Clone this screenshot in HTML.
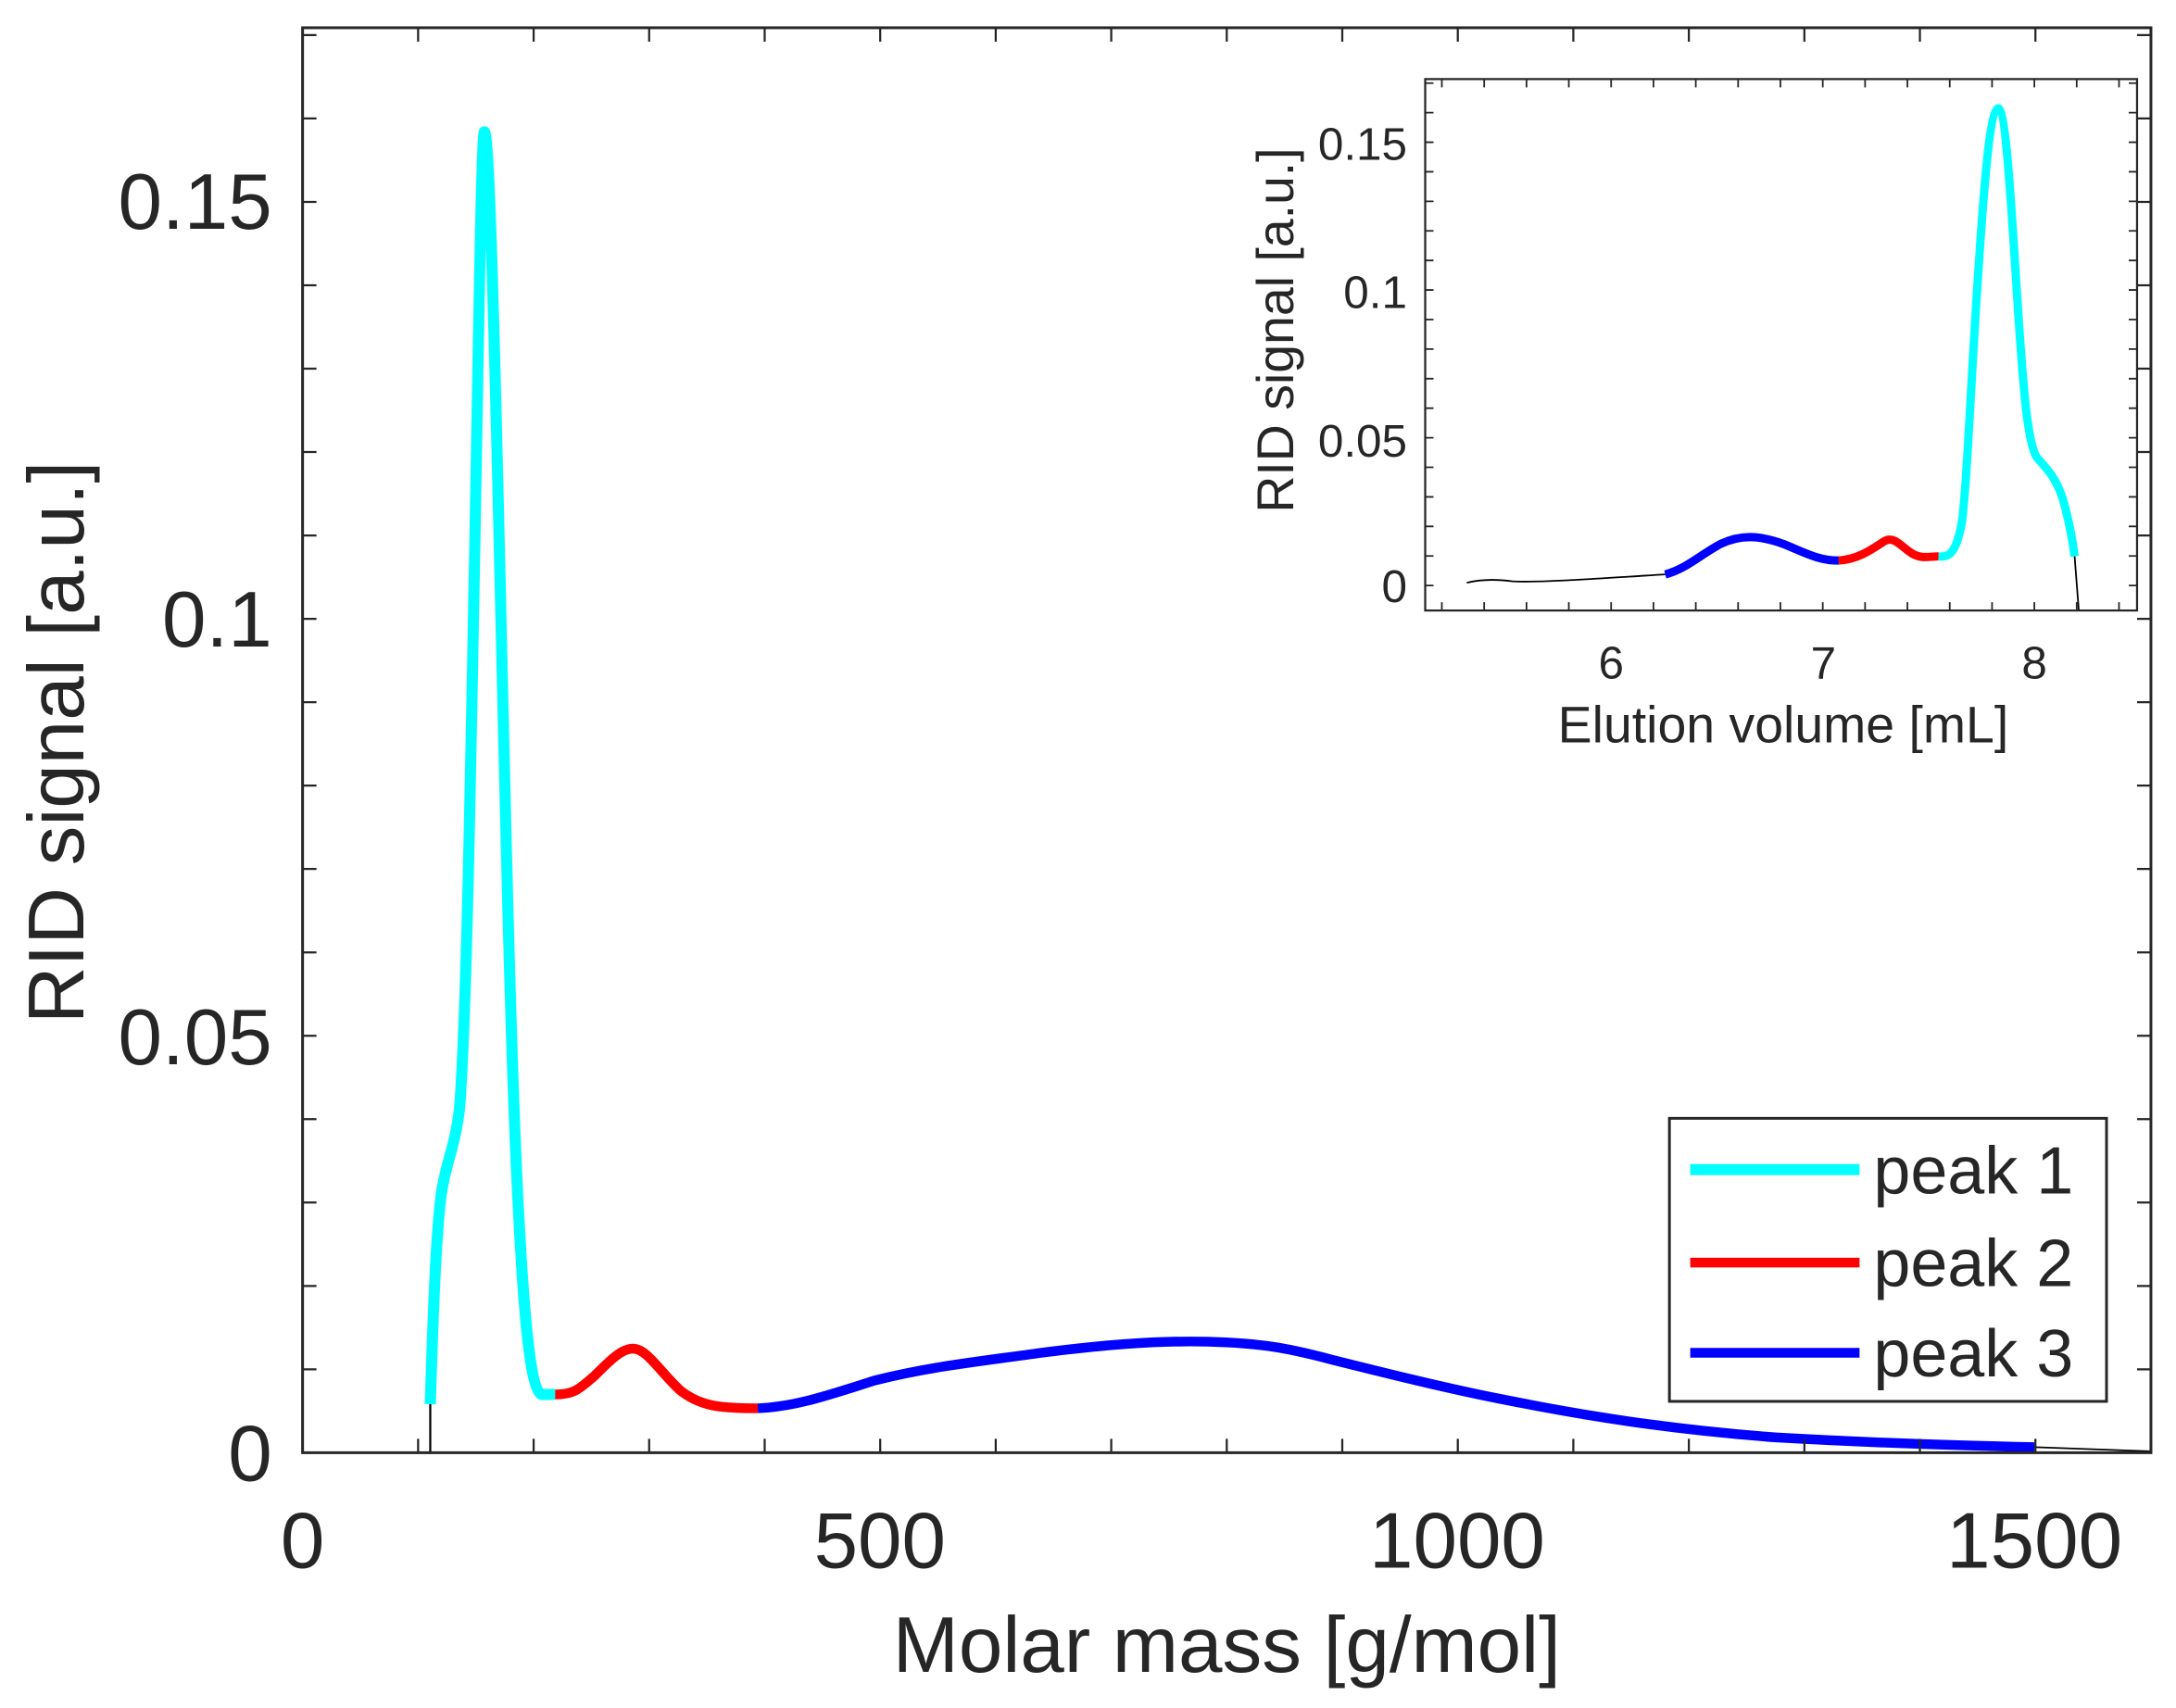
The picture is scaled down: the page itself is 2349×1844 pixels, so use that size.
<!DOCTYPE html>
<html><head><meta charset="utf-8"><style>
html,body{margin:0;padding:0;background:#fff}
svg{display:block}
text{font-family:"Liberation Sans",Arial,sans-serif;fill:#262626}
</style></head><body>
<svg id="s" width="2349" height="1844" viewBox="0 0 1568 1231" xmlns="http://www.w3.org/2000/svg">
<rect width="1568" height="1231" fill="#fff"/>
<g fill="none" stroke-linejoin="round" stroke-linecap="butt">
<path d="M310,1047 L310,1012" stroke="#000" stroke-width="1.5"/>
<path d="M310,1012 C312,950 314,890 318,860 C322,835 327,830 331,800 C336,740 339,560 342,400 C345,230 347,95 349,95 C352,95 355,200 358,320 C362,480 366,700 372,840 C377,950 382,1000 390,1005 L400,1005" stroke="#00ffff" stroke-width="8"/>
<path d="M400,1005 C415,1005 418,1000 428,992 C440,980 448,972 456,972 C466,972 475,988 490,1002 C505,1014 520,1015 546,1015" stroke="#ff0000" stroke-width="7"/>
<path d="M546,1015 C570,1014 590,1008 630,995 C670,985 700,982 750,975 C790,970 830,966 870,967 C910,968 930,972 960,980 C1000,990 1040,1000 1080,1008 C1140,1020 1200,1030 1280,1036 C1350,1040 1420,1042 1466,1043" stroke="#0000ff" stroke-width="7"/>
<path d="M1466,1043 L1550,1046" stroke="#000" stroke-width="1.2"/>
</g>
<g id="mainticks" stroke="#262626" stroke-width="1.5" fill="none"></g>
<rect x="218" y="20" width="1332" height="1027" fill="none" stroke="#262626" stroke-width="2"/>
<g font-size="57" text-anchor="end">
<text x="196" y="1067">0</text>
<text x="196" y="767">0.05</text>
<text x="196" y="466">0.1</text>
<text x="196" y="165">0.15</text>
</g>
<g font-size="57" text-anchor="middle">
<text x="218" y="1130">0</text>
<text x="634" y="1130">500</text>
<text x="1050" y="1130">1000</text>
<text x="1466" y="1130">1500</text>
<text x="884" y="1205">Molar mass [g/mol]</text>
<text transform="translate(60,535) rotate(-90)">RID signal [a.u.]</text>
</g>
<rect x="1203" y="806" width="315" height="204" fill="#fff" stroke="#262626" stroke-width="2"/>
<line x1="1218" y1="843" x2="1340" y2="843" stroke="#00ffff" stroke-width="8"/>
<line x1="1218" y1="910" x2="1340" y2="910" stroke="#ff0000" stroke-width="7"/>
<line x1="1218" y1="975" x2="1340" y2="975" stroke="#0000ff" stroke-width="7"/>
<g font-size="48" fill="#000"><text x="1350" y="860">peak 1</text><text x="1350" y="927">peak 2</text><text x="1350" y="992">peak 3</text></g>
<rect x="1027" y="57" width="513" height="383" fill="#fff"/>
<g fill="none" stroke-linejoin="round">
<path d="M1057,420 C1065,418 1075,417 1090,419 C1110,420 1150,417 1200,414" stroke="#000" stroke-width="1.2"/>
<path d="M1200,414 C1215,410 1225,400 1240,392 C1255,385 1268,386 1285,392 C1300,398 1310,404 1325,404" stroke="#0000ff" stroke-width="6"/>
<path d="M1325,404 C1340,403 1350,395 1358,390 C1365,386 1370,394 1378,399 C1385,403 1390,401 1397,401" stroke="#ff0000" stroke-width="6"/>
<path d="M1397,401 C1405,402 1410,398 1414,375 C1418,340 1421,260 1426,190 C1430,130 1434,80 1440,78 C1446,80 1450,160 1454,220 C1458,280 1461,320 1468,330 C1475,338 1483,345 1488,365 C1492,380 1494,393 1495,401" stroke="#00ffff" stroke-width="6"/>
<path d="M1495,401 L1498,440" stroke="#000" stroke-width="1.2"/>
</g>
<g id="insetticks" stroke="#262626" stroke-width="1.2" fill="none"></g>
<rect x="1027" y="57" width="513" height="383" fill="none" stroke="#262626" stroke-width="1.5"/>
<g font-size="33" text-anchor="end">
<text x="1014" y="434">0</text>
<text x="1014" y="329">0.05</text>
<text x="1014" y="222">0.1</text>
<text x="1014" y="115">0.15</text>
</g>
<g font-size="33" text-anchor="middle">
<text x="1161" y="489">6</text>
<text x="1314" y="489">7</text>
<text x="1466" y="489">8</text>
</g>
<g font-size="37" text-anchor="middle">
<text x="1285" y="535">Elution volume [mL]</text>
<text transform="translate(932,238) rotate(-90)">RID signal [a.u.]</text>
</g>
<script>
(function(){
var ns="http://www.w3.org/2000/svg";
function add(g,d){var p=document.createElementNS(ns,"path");p.setAttribute("d",d);g.appendChild(p);}
var g=document.getElementById("mainticks"),d="";
for(var i=0;i<=17;i++){var y=1047-i*60.1;d+="M218,"+y+"h10M1550,"+y+"h-10";}
for(var v=0;v<=1600;v+=100){var x=218+v*0.8325;d+="M"+x+",1047v-10M"+x+",20v10";}
add(g,d);
var h=document.getElementById("insetticks"),e="";
for(var i=0;i<=17;i++){var y=422-i*21.3;if(y<57)break;e+="M1027,"+y+"h6M1540,"+y+"h-6";}
for(var v=5.2;v<=8.45;v+=0.2){var x=1161+(v-6)*152.5;if(x<1027||x>1540)continue;e+="M"+x+",440v-6M"+x+",57v6";}
add(h,e);
})();
</script>
</svg>
</body></html>
